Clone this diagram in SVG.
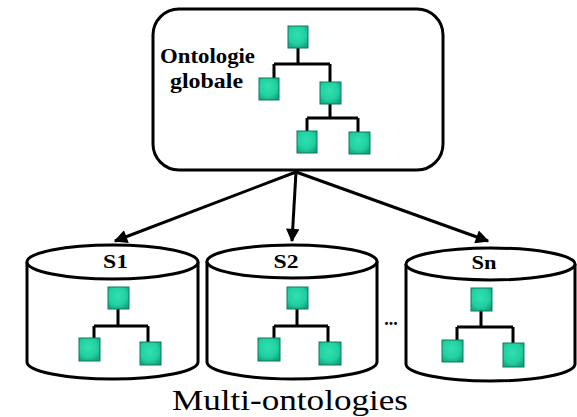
<svg xmlns="http://www.w3.org/2000/svg" width="577" height="417" viewBox="0 0 577 417">
<defs>
<radialGradient id="sq" cx="0.45" cy="0.4" r="0.7">
<stop offset="0" stop-color="#2fe0b0"/>
<stop offset="0.6" stop-color="#22d0a0"/>
<stop offset="1" stop-color="#10a07c"/>
</radialGradient>
<marker id="ah" viewBox="0 0 10 10" refX="9" refY="5" markerWidth="5" markerHeight="4.5" markerUnits="strokeWidth" orient="auto">
<path d="M0,0 L10,5 L0,10 Z" fill="#000"/>
</marker>
</defs>
<style>
.sq{fill:url(#sq);stroke:#0f7a5e;stroke-width:1}
.ln{fill:none;stroke:#000;stroke-width:3}
.cyl{fill:#fff;stroke:#000;stroke-width:3}
.lbl{font-family:"Liberation Serif","Times New Roman",serif;font-weight:bold;fill:#000}
.arr{fill:none;stroke:#000;stroke-width:3;marker-end:url(#ah)}
</style>
<rect width="577" height="417" fill="#fff"/>
<g id="global">
<rect x="153" y="9" width="290" height="161" rx="26" ry="26" fill="#fff" stroke="#000" stroke-width="3"/>
<text class="lbl" x="160" y="63" font-size="22" textLength="95" lengthAdjust="spacingAndGlyphs">Ontologie</text>
<text class="lbl" x="170" y="88" font-size="22" textLength="73" lengthAdjust="spacingAndGlyphs">globale</text>
<path class="ln" d="M298,48 V64 M274,64 H330 M274,64 V78 M330,64 V82 M330,104 V118 M307,118 H358 M307,118 V131 M358,118 V132"/>
<rect class="sq" x="288" y="26" width="20" height="22"/>
<rect class="sq" x="259" y="78" width="20" height="22"/>
<rect class="sq" x="320" y="82" width="21" height="22"/>
<rect class="sq" x="297" y="131" width="20" height="22"/>
<rect class="sq" x="349" y="132" width="21" height="22"/>
</g>
<g id="connectors">
<path class="arr" d="M296,172 L115,241"/>
<path class="arr" d="M296,172 L292,241"/>
<path class="arr" d="M296,172 L488,241"/>
</g>
<g id="s1">
<path class="cyl" d="M27,262 V362 A85.5,17 0 0 0 198,362 V262"/>
<ellipse class="cyl" cx="112.5" cy="262" rx="85.5" ry="17"/>
<text class="lbl" x="115.5" y="268" font-size="19" text-anchor="middle" textLength="25" lengthAdjust="spacingAndGlyphs">S1</text>
<path class="ln" d="M118,309 V326 M94,326 H148 M94,326 V338 M148,326 V342"/>
<rect class="sq" x="108" y="287" width="21" height="22"/>
<rect class="sq" x="79" y="338" width="21" height="23"/>
<rect class="sq" x="140" y="342" width="21" height="23"/>
</g>
<g id="s2">
<path class="cyl" d="M207,261 V362 A85,17 0 0 0 377,362 V261"/>
<ellipse class="cyl" cx="292" cy="261.5" rx="85" ry="16.5"/>
<text class="lbl" x="286" y="268" font-size="19" text-anchor="middle" textLength="25" lengthAdjust="spacingAndGlyphs">S2</text>
<path class="ln" d="M297,309 V326 M274,326 H328 M274,326 V338 M328,326 V342"/>
<rect class="sq" x="287" y="287" width="21" height="22"/>
<rect class="sq" x="258" y="338" width="22" height="23"/>
<rect class="sq" x="319" y="342" width="22" height="23"/>
</g>
<text x="391" y="325" font-family="Liberation Serif, serif" font-weight="bold" font-size="18" text-anchor="middle">...</text>
<g id="sn">
<path class="cyl" d="M406,264 V364 A84.5,17 0 0 0 575,364 V264"/>
<ellipse class="cyl" cx="490.5" cy="264" rx="84.5" ry="16"/>
<text class="lbl" x="484" y="269" font-size="19" text-anchor="middle" textLength="25" lengthAdjust="spacingAndGlyphs">Sn</text>
<path class="ln" d="M481,311 V327 M457,327 H513 M457,327 V340 M513,327 V343"/>
<rect class="sq" x="471" y="288" width="21" height="23"/>
<rect class="sq" x="442" y="340" width="21" height="22"/>
<rect class="sq" x="503" y="343" width="21" height="24"/>
</g>
<text x="172" y="410" font-family="Liberation Serif, serif" font-size="29" textLength="236" lengthAdjust="spacingAndGlyphs">Multi-ontologies</text>
</svg>
